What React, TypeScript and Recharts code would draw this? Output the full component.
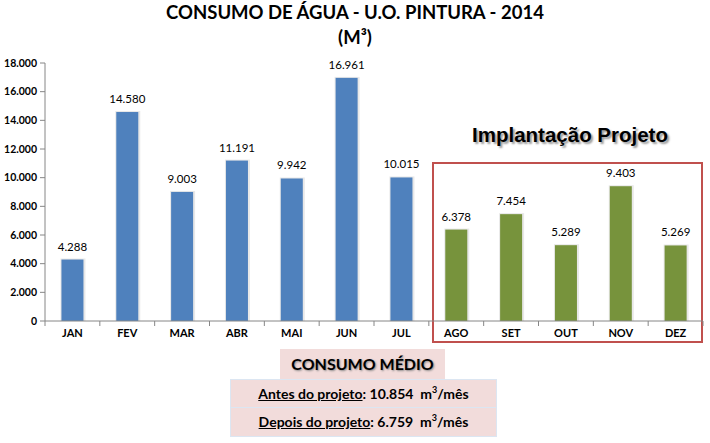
import React from 'react';
import { BarChart, Bar, XAxis, YAxis, Cell, LabelList } from 'recharts';

const months = ['JAN', 'FEV', 'MAR', 'ABR', 'MAI', 'JUN', 'JUL', 'AGO', 'SET', 'OUT', 'NOV', 'DEZ'];
const consumo = [4288, 14580, 9003, 11191, 9942, 16961, 10015, 6378, 7454, 5289, 9403, 5269];
// months from AGO on are after the project started
const projectStart = 7;
const yTicks = [0, 2000, 4000, 6000, 8000, 10000, 12000, 14000, 16000, 18000];
const mediaAntes = '10.854';
const mediaDepois = '6.759';

const BLUE = '#4F81BD';
const GREEN = '#77933C';
const FONT = 'Lato, "Open Sans", sans-serif';

const W = 710;
const H = 443;
const PLOT_LEFT = 45;
const PLOT_RIGHT = 703;
const BAND = (PLOT_RIGHT - PLOT_LEFT) / months.length;

const fmt = (v: number) => String(v).replace(/\B(?=(\d{3})+(?!\d))/g, '.');

const chartData = months.map((m, i) => ({ month: m, value: consumo[i] }));

// bar with a soft grey shadow around it, like the excel look
const ShadowBar = (props: any) => {
  const { x, y, width, height, fill } = props;
  if (!height || height <= 0) return null;
  return (
    <g>
      <rect x={x - 1} y={y - 1} width={width + 3} height={height + 1} fill="#e8e8e8" />
      <rect x={x} y={y} width={width} height={height} fill={fill} />
    </g>
  );
};

// category tick: label in the middle, tick mark on the band boundary
const MonthTick = (props: any) => {
  const { x, y, payload, index } = props;
  const axisY = y - 6;
  return (
    <g>
      <line x1={x - BAND / 2} x2={x - BAND / 2} y1={axisY} y2={axisY + 5} stroke="#868686" />
      {index === months.length - 1 && (
        <line x1={x + BAND / 2} x2={x + BAND / 2} y1={axisY} y2={axisY + 5} stroke="#868686" />
      )}
      <text x={x} y={y + 10} textAnchor="middle" fontSize={11} fontWeight="bold" fill="#000" fontFamily={FONT}>
        {payload.value}
      </text>
    </g>
  );
};

export default function App() {
  return (
    <div style={{ position: 'absolute', left: 0, top: 0, width: W, height: H, background: '#fff', fontFamily: FONT }}>
      <div style={{ position: 'absolute', left: 0, top: 0, width: W, textAlign: 'center', fontWeight: 'bold', fontSize: 18.5, lineHeight: '25px', color: '#000' }}>
        CONSUMO DE ÁGUA - U.O. PINTURA - 2014
        <br />
        (M³)
      </div>

      <div
        style={{
          position: 'absolute',
          left: 432,
          top: 123,
          width: 276,
          textAlign: 'center',
          fontFamily: '"Liberation Sans", Arial, sans-serif',
          fontWeight: 'bold',
          fontSize: 20.5,
          color: '#000',
          textShadow: '2px 2px 2px #9a9a9a',
        }}
      >
        Implantação Projeto
      </div>
      <div style={{ position: 'absolute', left: 432, top: 162, width: 271, height: 181, border: '2px solid #C0504D', boxSizing: 'border-box' }} />

      <div style={{ position: 'absolute', left: 0, top: 0 }}>
        <BarChart
          width={W}
          height={H}
          data={chartData}
          margin={{ top: 63, right: W - PLOT_RIGHT, left: 0, bottom: 100 }}
          barCategoryGap="30%"
        >
          <YAxis
            width={PLOT_LEFT}
            domain={[0, 18000]}
            ticks={yTicks}
            interval={0}
            tickFormatter={fmt}
            axisLine={{ stroke: '#868686' }}
            tickLine={{ stroke: '#868686' }}
            tickSize={5}
            tickMargin={3}
            tick={{ fontSize: 10.5, fontWeight: 'bold', fill: '#000', fontFamily: FONT }}
          />
          <XAxis
            dataKey="month"
            height={22}
            interval={0}
            axisLine={{ stroke: '#868686' }}
            tickLine={false}
            tickSize={0}
            tickMargin={6}
            tick={<MonthTick />}
          />
          <Bar dataKey="value" isAnimationActive={false} shape={<ShadowBar />}>
            {chartData.map((d, i) => (
              <Cell key={d.month} fill={i < projectStart ? BLUE : GREEN} />
            ))}
            <LabelList
              dataKey="value"
              position="top"
              offset={9}
              formatter={(v: any) => fmt(Number(v))}
              style={{ fontSize: 11.5, fill: '#000', fontFamily: FONT }}
            />
          </Bar>
        </BarChart>
      </div>

      <div
        style={{
          position: 'absolute',
          left: 280,
          top: 349,
          width: 165,
          height: 30,
          background: '#F2DCDB',
          textAlign: 'center',
          lineHeight: '30px',
          fontWeight: 'bold',
          fontSize: 16,
          color: '#000',
          textShadow: '1px 1px 2px #888',
        }}
      >
        CONSUMO MÉDIO
      </div>
      {[
        ['Antes do projeto', mediaAntes],
        ['Depois do projeto', mediaDepois],
      ].map(([label, val], i) => (
        <div
          key={label}
          style={{
            position: 'absolute',
            left: 230,
            top: 379 + i * 29,
            width: 267,
            height: 29,
            boxSizing: 'border-box',
            background: '#F2DCDB',
            border: '1px solid #DCE6F2',
            borderTop: i === 0 ? '1px solid #DCE6F2' : 'none',
            textAlign: 'center',
            lineHeight: '28px',
            fontWeight: 'bold',
            fontSize: 14,
            color: '#000',
          }}
        >
          <span style={{ textDecoration: 'underline' }}>{label}</span>: {val}&nbsp; m
          <sup style={{ fontSize: 9, lineHeight: 0 }}>3</sup>/mês
        </div>
      ))}
    </div>
  );
}
